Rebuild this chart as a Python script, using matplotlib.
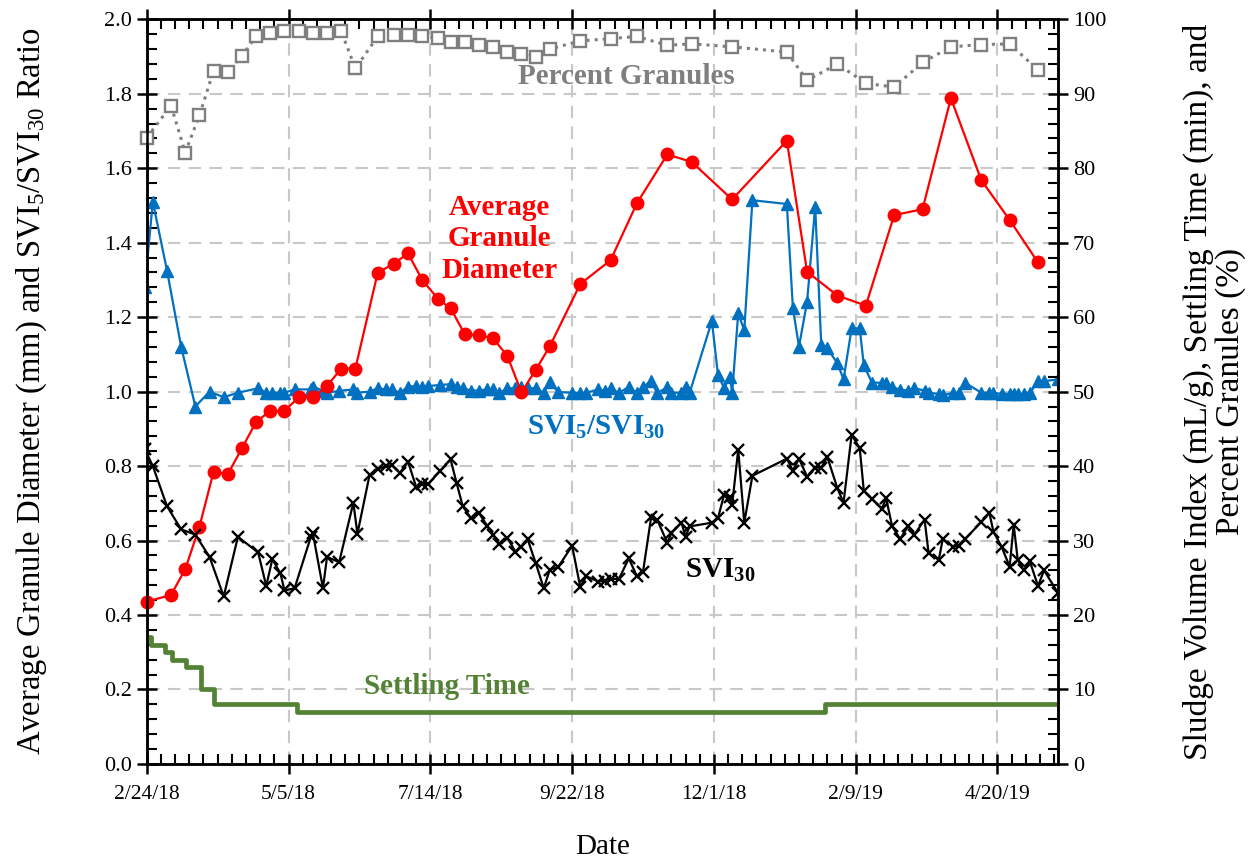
import matplotlib
matplotlib.use("Agg")
import matplotlib.pyplot as plt
from matplotlib.ticker import MultipleLocator

plt.rcParams['font.family'] = ['Liberation Serif', 'DejaVu Serif']
plt.rcParams['mathtext.fontset'] = 'custom'
plt.rcParams['mathtext.rm'] = 'Liberation Serif'
plt.rcParams['mathtext.it'] = 'Liberation Serif:italic'
plt.rcParams['mathtext.bf'] = 'Liberation Serif:bold'

# days since 2/24/18
tick_days = [0, 70, 140, 210, 280, 350, 420]
tick_labels = ['2/24/18', '5/5/18', '7/14/18', '9/22/18', '12/1/18', '2/9/19', '4/20/19']

# granule sampling dates (diameter + percent granules)
gran_days = [0, 12, 19, 26, 33, 40, 47, 54, 61, 68, 75, 82, 89, 96, 103, 114, 122, 129,
             136, 144, 150, 157, 164, 171, 178, 185, 192, 199, 214, 229, 242, 257, 269,
             289, 316, 326, 341, 355, 369, 383, 397, 412, 426, 440]
diameter = [0.436, 0.454, 0.523, 0.637, 0.785, 0.778, 0.848, 0.919, 0.948, 0.948,
            0.985, 0.985, 1.015, 1.062, 1.062, 1.319, 1.344, 1.371, 1.300, 1.248,
            1.224, 1.154, 1.152, 1.143, 1.096, 0.998, 1.058, 1.122, 1.289, 1.353,
            1.506, 1.637, 1.617, 1.516, 1.674, 1.322, 1.258, 1.231, 1.474, 1.490,
            1.788, 1.568, 1.461, 1.347]
pct_granules = [84.1, 88.4, 82.1, 87.1, 93.1, 92.9, 95.1, 97.7, 98.2, 98.4, 98.4, 98.1,
                98.2, 98.4, 93.4, 97.7, 97.9, 97.9, 97.7, 97.5, 97.0, 96.9, 96.5, 96.3,
                95.6, 95.3, 94.9, 96.0, 97.1, 97.4, 97.7, 96.5, 96.7, 96.3, 95.6, 91.8,
                94.0, 91.4, 90.9, 94.2, 96.3, 96.6, 96.7, 93.2]

# SVI sampling dates
svi_days = [-1, 3, 10, 17, 24, 31, 38, 45, 55, 59, 62, 66, 68, 73, 81, 82, 87, 89, 95,
            102, 104, 110, 114, 118, 121, 125, 129, 133, 136, 139, 145, 150, 153, 156,
            160, 164, 168, 171, 174, 178, 182, 185, 188, 192, 196, 199, 203, 210, 214,
            217, 223, 226, 229, 233, 238, 242, 245, 249, 252, 257, 259, 264, 266, 268,
            279, 282, 285, 288, 289, 292, 295, 299, 316, 319, 322, 326, 330, 333, 336,
            341, 344, 348, 352, 354, 358, 363, 365, 368, 372, 376, 379, 384, 386, 391,
            393, 398, 401, 404, 412, 416, 418, 422, 426, 428, 430, 433, 436, 440, 443,
            450]
svi30 = [42.3, 40.0, 34.6, 31.5, 30.8, 27.8, 22.5, 30.5, 28.4, 23.9, 27.5, 25.6, 23.3,
         23.6, 30.5, 31.0, 23.6, 27.8, 27.1, 35.1, 30.9, 38.8, 39.6, 40.0, 40.1, 39.1,
         40.6, 37.2, 37.6, 37.6, 39.4, 40.9, 37.7, 34.6, 33.0, 33.7, 32.0, 30.8, 29.6,
         30.4, 28.5, 29.2, 30.2, 27.0, 23.6, 26.1, 26.4, 29.3, 23.8, 25.2, 24.5, 24.6,
         24.9, 24.8, 27.6, 25.2, 25.8, 33.1, 32.8, 29.7, 31.0, 32.4, 30.5, 31.9, 32.4,
         33.0, 36.1, 35.8, 34.8, 42.2, 32.4, 38.7, 41.0, 39.4, 41.0, 38.6, 39.8, 39.8,
         41.2, 37.0, 35.1, 44.2, 42.4, 36.7, 35.6, 34.3, 35.7, 31.9, 30.2, 32.0, 30.8,
         32.8, 28.3, 27.4, 30.2, 29.2, 29.3, 30.2, 32.5, 33.7, 31.2, 29.2, 26.5, 32.1,
         27.4, 26.0, 27.2, 23.9, 26.0, 22.9]
svi_ratio = [1.28, 1.51, 1.325, 1.12, 0.96, 1.00, 0.985, 0.997, 1.009, 0.997, 0.997,
             0.997, 0.997, 1.006, 1.006, 1.013, 1.003, 0.997, 1.002, 1.006, 0.997, 1.000,
             1.009, 1.006, 1.006, 0.997, 1.013, 1.015, 1.013, 1.015, 1.018, 1.020, 1.013,
             1.009, 1.003, 1.003, 1.006, 1.006, 0.996, 1.009, 1.009, 1.013, 1.009, 1.009,
             0.997, 1.027, 0.999, 0.997, 0.997, 0.997, 1.006, 1.003, 1.009, 0.996, 1.013,
             0.996, 1.013, 1.028, 0.996, 1.012, 0.997, 0.997, 1.012, 0.996, 1.19, 1.045,
             1.01, 1.04, 0.996, 1.21, 1.165, 1.514, 1.504, 1.224, 1.121, 1.241, 1.497,
             1.125, 1.116, 1.076, 1.033, 1.170, 1.170, 1.071, 1.024, 1.024, 1.024, 1.012,
             1.005, 1.003, 1.009, 1.003, 0.997, 0.994, 0.990, 0.997, 0.997, 1.024, 0.997,
             0.997, 0.997, 0.994, 0.994, 0.994, 0.994, 0.994, 0.996, 1.028, 1.028, 1.033]

# settling time changes (min)
settle_days = [0, 2, 9, 12.5, 19.5, 27, 33, 74, 335, 450]
settle_min = [17, 16, 15, 14, 13, 10, 8, 7, 8, 8]

red = '#FF0000'
blue = '#0070C0'
gray = '#7F7F7F'
green = '#548235'

fig = plt.figure(figsize=(12.5, 8.61), dpi=100)
ax = fig.add_axes([0.1174, 0.1127, 0.7292, 0.8649])
ax2 = ax.twinx()

ax.plot(gran_days, diameter, '-o', color=red, lw=1.6, ms=9, clip_on=False, zorder=4)
ax.plot(svi_days, svi_ratio, '-^', color=blue, lw=1.6, ms=8, zorder=3)

ax2.plot(gran_days, pct_granules, ':s', color=gray, lw=2.2, ms=8.5, mfc='white',
         mec=gray, mew=1.7, clip_on=False)
ax2.plot(svi_days, svi30, '-x', color='black', lw=1.6, ms=8.5, mew=1.7)
ax2.plot(settle_days, settle_min, '-', color=green, lw=3.4, drawstyle='steps-post')

ax.set_xlim(0, 450)
ax.set_ylim(0, 2.0)
ax2.set_ylim(0, 100)
ax.set_xticks(tick_days)
ax.set_xticklabels(tick_labels)
ax.xaxis.set_minor_locator(MultipleLocator(7))
ax.yaxis.set_major_locator(MultipleLocator(0.2))
ax.yaxis.set_minor_locator(MultipleLocator(0.04))
ax.yaxis.set_major_formatter(plt.FormatStrFormatter('%.1f'))
ax2.yaxis.set_major_locator(MultipleLocator(10))
ax2.yaxis.set_minor_locator(MultipleLocator(2))

ax.grid(True, which='major', color='#C8C8C8', ls=(0, (6, 4)), lw=1.5)
ax.set_axisbelow(True)

for a in (ax, ax2):
    a.tick_params(which='major', direction='inout', length=14, width=1.8,
                  labelsize=16, colors='black')
    a.tick_params(which='minor', direction='in', length=7, width=1.5)
    for s in a.spines.values():
        s.set_linewidth(1.8)
ax.tick_params(which='both', top=True, right=False)
ax.tick_params(axis='x', which='major', pad=8)
ax.tick_params(axis='x', which='major', labelsize=15.5)

ax.set_xlabel('Date', fontsize=21, labelpad=22)
ax.set_ylabel('Average Granule Diameter (mm) and SVI$_5$/SVI$_{30}$ Ratio', fontsize=23.5,
              labelpad=40)
ax2.set_ylabel('Sludge Volume Index (mL/g), Settling Time (min), and\nPercent Granules (%)',
               fontsize=24, linespacing=1.05, labelpad=55)

ax.text(237, 1.845, 'Percent Granules', color=gray, fontsize=21, fontweight='bold',
        ha='center', va='center')
ax.text(174, 1.41, 'Average\nGranule\nDiameter', color=red, fontsize=21,
        fontweight='bold', ha='center', va='center', linespacing=1.22)
ax.text(222, 0.905, r'SVI$_\mathbf{5}$/SVI$_\mathbf{30}$', color=blue, fontsize=21,
        fontweight='bold', ha='center', va='center')
ax.text(283, 0.52, r'SVI$_\mathbf{30}$', color='black', fontsize=21,
        fontweight='bold', ha='center', va='center')
ax.text(148, 0.209, 'Settling Time', color=green, fontsize=21, fontweight='bold',
        ha='center', va='center')

fig.savefig('out.png', dpi=100)
